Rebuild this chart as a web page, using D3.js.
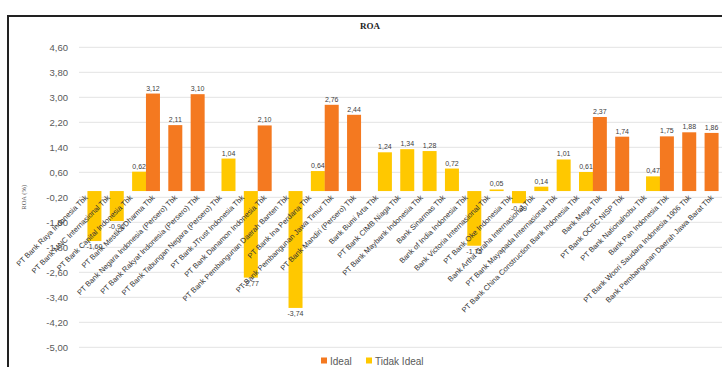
<!DOCTYPE html>
<html>
<head>
<meta charset="utf-8">
<script src="https://cdn.jsdelivr.net/npm/d3@7"></script>
<style>
  html, body { margin: 0; padding: 0; background: #fff; }
  svg { display: block; }
</style>
</head>
<body>
<svg id="chart" width="722" height="367"></svg>
<script>
const categories = [
  "PT Bank Raya Indonesia Tbk",
  "PT Bank MNC Internasional Tbk",
  "PT Bank Capital Indonesia Tbk",
  "PT Bank Mestika Dharma Tbk",
  "PT Bank Negara Indonesia (Persero) Tbk",
  "PT Bank Rakyat Indonesia (Persero) Tbk",
  "PT Bank Tabungan Negara (Persero) Tbk",
  "PT Bank JTrust Indonesia Tbk",
  "PT Bank Danamon Indonesia Tbk",
  "PT Bank Pembangunan Daerah Banten Tbk",
  "PT Bank Ina Perdana Tbk",
  "PT Bank Pembangunan Jawa Timur Tbk",
  "PT Bank Mandiri (Persero) Tbk",
  "Bank Bumi Arta Tbk",
  "PT Bank CIMB Niaga Tbk",
  "PT Bank Maybank Indonesia Tbk",
  "Bank Sinarmas Tbk",
  "Bank of India Indonesia Tbk",
  "Bank Victoria Internasional Tbk",
  "PT Bank Oke Indonesia Tbk",
  "Bank Artha Graha Internasional Tbk",
  "PT Bank Mayapada Internasional Tbk",
  "PT Bank China Construction Bank Indonesia Tbk",
  "Bank Mega Tbk",
  "PT Bank OCBC NISP Tbk",
  "PT Bank Nationalnobu Tbk",
  "Bank Pan Indonesia Tbk",
  "PT Bank Woori Saudara Indonesia 1906 Tbk",
  "Bank Pembangunan Daerah Jawa Barat Tbk"
];
const seriesNames = ["Ideal", "Tidak Ideal"];
const idealValues = [null, null, null, 3.12, 2.11, 3.10, null, null, 2.10, null, null, 2.76, 2.44, null, null, null, null, null, null, null, null, null, null, 2.37, 1.74, null, 1.75, 1.88, 1.86];
const tidakIdealValues = [-1.60, -0.96, 0.62, null, null, null, 1.04, -2.77, null, -3.74, 0.64, null, null, 1.24, 1.34, 1.28, 0.72, -1.75, 0.05, -0.39, 0.14, 1.01, 0.61, null, null, 0.47, null, null, null];
const yTicks = [4.6, 3.8, 3.0, 2.2, 1.4, 0.6, -0.2, -1.0, -1.8, -2.6, -3.4, -4.2, -5.0];
const colors = { "Ideal": "#F47920", "Tidak Ideal": "#FFC800" };

const locale = d3.formatLocale({ decimal: ",", thousands: ".", grouping: [3], currency: ["", ""], minus: "-" });
const fmt = locale.format(".2f");

const svg = d3.select("#chart");

// Frame
svg.append("rect").attr("x", 8).attr("y", 16).attr("width", 740).attr("height", 400)
  .attr("fill", "#fff").attr("stroke", "#222").attr("stroke-width", 2);

const x = d3.scaleBand().domain(categories).range([79, 727]).paddingInner(0).paddingOuter(0);
const xSub = d3.scalePoint().domain(seriesNames).range([-4.25, 4.25]);
const y = d3.scaleLinear().domain([-5.0, 4.6]).range([347.3, 47.3]);
const barW = 14;

// Gridlines + y axis
const yAxis = d3.axisLeft(y).tickValues(yTicks).tickFormat(fmt).tickSize(0).tickPadding(11);
const gy = svg.append("g").attr("transform", "translate(79,0)").call(yAxis);
gy.select(".domain").remove();
gy.selectAll("text").attr("font-family", "Liberation Sans, Arial, sans-serif").attr("font-size", 9.5).attr("fill", "#595959");
svg.append("g").selectAll("line").data(yTicks).join("line")
  .attr("x1", 79).attr("x2", 727)
  .attr("y1", d => y(d)).attr("y2", d => y(d))
  .attr("stroke", "#e3e3e3").attr("stroke-width", 1);

// Bars
const rows = [];
categories.forEach((c, i) => {
  if (idealValues[i] !== null) rows.push({ cat: c, s: "Ideal", v: idealValues[i] });
  if (tidakIdealValues[i] !== null) rows.push({ cat: c, s: "Tidak Ideal", v: tidakIdealValues[i] });
});
const cx = d => x(d.cat) + x.bandwidth() / 2 + xSub(d.s);

svg.append("g").selectAll("rect").data(rows).join("rect")
  .attr("x", d => cx(d) - barW / 2)
  .attr("width", barW)
  .attr("y", d => Math.min(y(d.v), y(0)))
  .attr("height", d => Math.abs(y(d.v) - y(0)))
  .attr("fill", d => colors[d.s]);

// Data labels
svg.append("g").selectAll("text").data(rows).join("text")
  .attr("x", d => cx(d))
  .attr("y", d => d.v >= 0 ? y(d.v) - 3 : y(d.v) + 8)
  .attr("text-anchor", "middle")
  .attr("font-family", "Liberation Sans, Arial, sans-serif")
  .attr("font-size", 7).attr("fill", "#404040")
  .text(d => fmt(d.v));

// Category labels
svg.append("g").selectAll("text").data(categories).join("text")
  .attr("transform", d => `translate(${x(d) + x.bandwidth() / 2 - 2},${y(0) + 7}) rotate(-45)`)
  .attr("text-anchor", "end")
  .attr("font-family", "Liberation Sans, Arial, sans-serif")
  .attr("font-size", 7.5).attr("fill", "#333")
  .text(d => d);

// Title
svg.append("text").attr("x", 370).attr("y", 29).attr("text-anchor", "middle")
  .attr("font-family", "Liberation Serif, Times New Roman, serif").attr("font-weight", "bold")
  .attr("font-size", 9).attr("fill", "#222").text("ROA");

// Y axis title
svg.append("text").attr("transform", `translate(26,${y(-0.2)}) rotate(-90)`)
  .attr("text-anchor", "middle")
  .attr("font-family", "Liberation Serif, Times New Roman, serif")
  .attr("font-size", 6.5).attr("fill", "#555").text("ROA (%)");

// Legend
const legend = svg.append("g").attr("transform", "translate(0,361)");
const legX = { "Ideal": 321, "Tidak Ideal": 366 };
seriesNames.forEach(s => {
  legend.append("rect").attr("x", legX[s]).attr("y", -3.5).attr("width", 6).attr("height", 6).attr("fill", colors[s]);
  legend.append("text").attr("x", legX[s] + 9).attr("y", 3.5)
    .attr("font-family", "Liberation Sans, Arial, sans-serif").attr("font-size", 10).attr("fill", "#595959")
    .text(s);
});
</script>
</body>
</html>
